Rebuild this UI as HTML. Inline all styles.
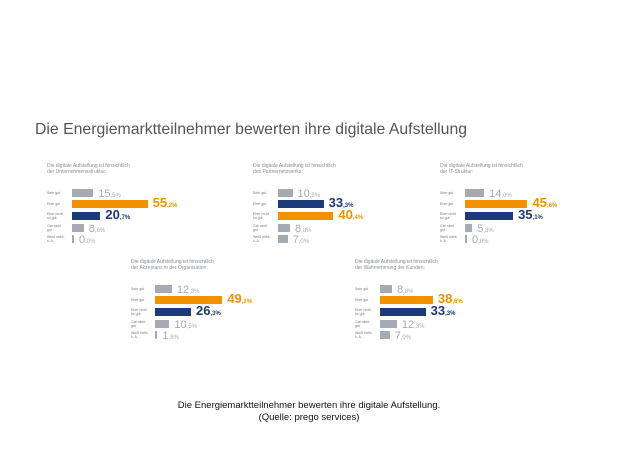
<!DOCTYPE html>
<html><head><meta charset="utf-8"><style>
body{margin:0;width:618px;height:464px;background:#fff;position:relative;overflow:hidden;font-family:"Liberation Sans",sans-serif}
.a{position:absolute;white-space:nowrap}
.t{font-size:5px;color:#8a8f96;line-height:6px}
.l{font-size:3.5px;color:#777;line-height:4px}
.b{height:8px}
.v{font-size:11px;font-weight:bold;line-height:10px}
.v small{font-size:6px}
</style></head><body>
<div class="a" style="left:35px;top:121px;font-size:15.8px;color:#555">Die Energiemarktteilnehmer bewerten ihre digitale Aufstellung</div>
<div class="a" style="left:0;width:618px;top:400px;text-align:center;font-size:9.5px;color:#111;line-height:12px">Die Energiemarktteilnehmer bewerten ihre digitale Aufstellung.<br>(Quelle: prego services)</div>
<div id="c"></div>
<script>
var G='#a6abb3',O='#f39200',B='#1d3a7a';
var labels=['Sehr gut','Eher gut','Eher nicht<br>so gut','Gar nicht<br>gut','Weiß nicht,<br>k. A.'];
var P=[
[47,72,163,'der Unternehmensstruktur:',[[15.5,G],[55.2,O],[20.7,B],[8.6,G],[0.0,G]]],
[253,278,163,'des Partnernetzwerks:',[[10.6,G],[33.3,B],[40.4,O],[8.8,G],[7.0,G]]],
[440,465,163,'der IT-Struktur:',[[14.0,G],[45.6,O],[35.1,B],[5.3,G],[0.0,G]]],
[131,155,259,'der Akzeptanz in der Organisation:',[[12.3,G],[49.1,O],[26.3,B],[10.5,G],[1.8,G]]],
[355,380,259,'der Wahrnehmung der Kunden:',[[8.8,G],[38.6,O],[33.3,B],[12.3,G],[7.0,G]]]];
var dy=[26,37,49,61,72],h='';
P.forEach(function(p){
h+='<div class="a t" style="left:'+p[0]+'px;top:'+p[2]+'px">Die digitale Aufstellung ist hinsichtlich<br>'+p[3]+'</div>';
p[4].forEach(function(r,i){
var y=p[2]+dy[i],w=Math.max(2,r[0]*1.37),s=r[0].toFixed(1).split('.');
var big=r[1]!=G;
h+='<div class="a l" style="left:'+p[0]+'px;top:'+(y+(labels[i].indexOf('<br>')>0?0:2))+'px">'+labels[i]+'</div>';
h+='<div class="a b" style="left:'+p[1]+'px;top:'+y+'px;width:'+w+'px;background:'+r[1]+'"></div>';
h+='<div class="a v" style="left:'+(p[1]+w+5)+'px;top:'+(y-(big?2:0))+'px;color:'+(big?r[1]:'#a6abb3')+';font-weight:'+(big?'bold':'normal')+';font-size:'+(big?13:11)+'px">'+s[0]+'<small>,'+s[1]+'%</small></div>';
});});
document.getElementById('c').innerHTML=h;
</script>
</body></html>
